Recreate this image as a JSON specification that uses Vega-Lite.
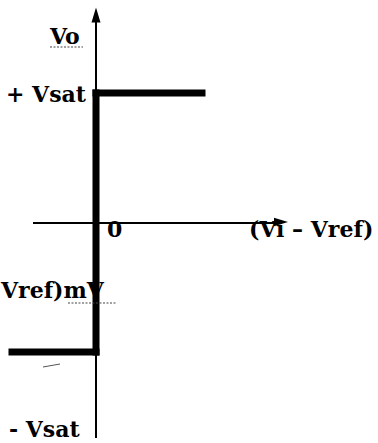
{
  "$schema": "https://vega.github.io/schema/vega-lite/v6.json",
  "width": 378,
  "height": 443,
  "autosize": {"type": "fit", "contains": "padding"},
  "padding": 0,
  "background": "white",
  "config": {"view": {"stroke": null}},
  "datasets": {
    "segs": [
      {"kind": "axis", "x": 0, "y": -21.5, "x2": 0, "y2": 20.5},
      {"kind": "axis", "x": -6.3, "y": 0, "x2": 18.5, "y2": 0},
      {"kind": "curve", "x": 0, "y": 13.0, "x2": 10.6, "y2": 13.0},
      {"kind": "curve", "x": 0, "y": 13.0, "x2": 0, "y2": -12.9},
      {"kind": "curve", "x": -8.4, "y": -12.9, "x2": 0, "y2": -12.9},
      {"kind": "stray", "x": -5.3, "y": -14.4, "x2": -3.6, "y2": -14.1},
      {"kind": "squiggle", "x": -4.6, "y": 17.6, "x2": -1.3, "y2": 17.6},
      {"kind": "squiggle", "x": -2.8, "y": -8.0, "x2": 2.1, "y2": -8.0}
    ],
    "arrows": [
      {"axis": "Vo", "x": 0, "y": 20.8},
      {"axis": "Vi-Vref", "x": 18.5, "y": 0.1}
    ],
    "labels": [
      {"text": "Vo", "x": -4.6, "y": 17.9},
      {"text": "+ Vsat", "x": -9.0, "y": 12.1},
      {"text": "0", "x": 1.1, "y": -1.4},
      {"text": "(Vi – Vref)", "x": 15.3, "y": -1.4},
      {"text": "Vref)mV", "x": -9.5, "y": -7.5},
      {"text": "- Vsat", "x": -8.7, "y": -21.4}
    ]
  },
  "encoding": {
    "x": {"field": "x", "type": "quantitative", "scale": {"domain": [-9.6, 28.2], "nice": false, "zero": false}, "axis": null},
    "y": {"field": "y", "type": "quantitative", "scale": {"domain": [-22.0, 22.3], "nice": false, "zero": false}, "axis": null}
  },
  "layer": [
    {
      "data": {"name": "segs"},
      "transform": [{"filter": "datum.kind === 'axis'"}],
      "mark": {"type": "rule", "color": "black", "strokeWidth": 2},
      "encoding": {"x2": {"field": "x2"}, "y2": {"field": "y2"}}
    },
    {
      "data": {"name": "segs"},
      "transform": [{"filter": "datum.kind === 'curve'"}],
      "mark": {"type": "rule", "color": "black", "strokeWidth": 7, "strokeCap": "square"},
      "encoding": {"x2": {"field": "x2"}, "y2": {"field": "y2"}}
    },
    {
      "data": {"name": "segs"},
      "transform": [{"filter": "datum.kind === 'stray'"}],
      "mark": {"type": "rule", "color": "#555555", "strokeWidth": 1},
      "encoding": {"x2": {"field": "x2"}, "y2": {"field": "y2"}}
    },
    {
      "data": {"name": "segs"},
      "transform": [{"filter": "datum.kind === 'squiggle'"}],
      "mark": {"type": "rule", "color": "#444444", "strokeWidth": 1.2, "strokeDash": [2, 1.5]},
      "encoding": {"x2": {"field": "x2"}, "y2": {"field": "y2"}}
    },
    {
      "data": {"name": "arrows"},
      "transform": [{"filter": "datum.axis === 'Vo'"}],
      "mark": {"type": "point", "filled": true, "color": "black", "opacity": 1, "size": 225, "shape": "M0,-1L0.6,1L-0.6,1Z"}
    },
    {
      "data": {"name": "arrows"},
      "transform": [{"filter": "datum.axis === 'Vi-Vref'"}],
      "mark": {"type": "point", "filled": true, "color": "black", "opacity": 1, "size": 196, "shape": "M1,0L-1,0.6L-1,-0.6Z"}
    },
    {
      "data": {"name": "labels"},
      "mark": {"type": "text", "align": "left", "baseline": "alphabetic", "font": "DejaVu Serif", "fontWeight": "bold", "fontSize": 22, "color": "black"},
      "encoding": {"text": {"field": "text"}}
    }
  ]
}
